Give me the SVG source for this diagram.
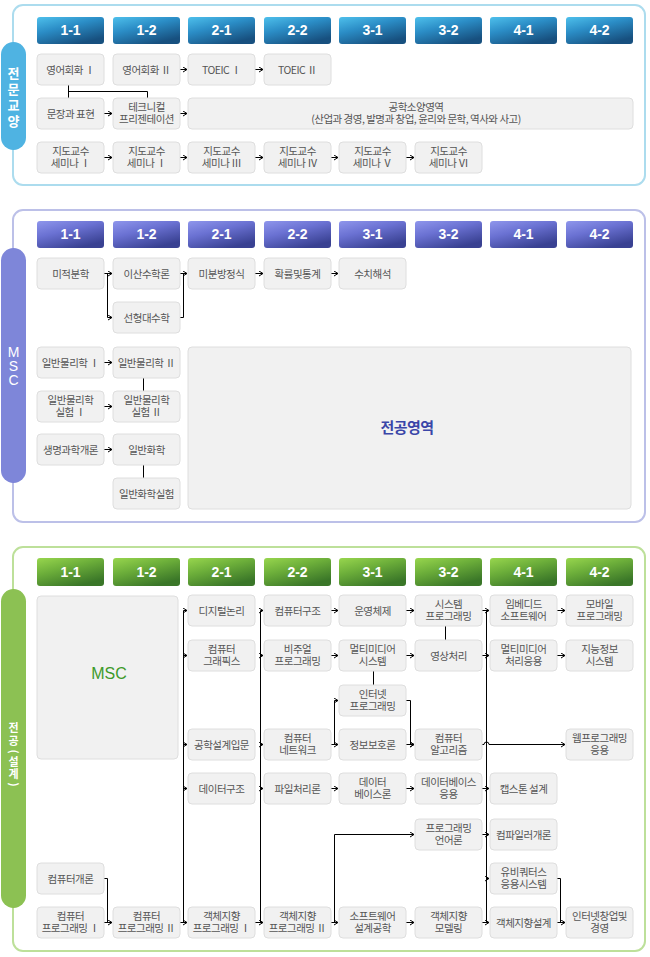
<svg xmlns="http://www.w3.org/2000/svg" width="650" height="957" viewBox="0 0 650 957">
<defs>
<linearGradient id="gB" x1="0" y1="0" x2="0.6" y2="1"><stop offset="0" stop-color="#4ec0ec"/><stop offset="0.45" stop-color="#2b8dc6"/><stop offset="1" stop-color="#17507f"/></linearGradient>
<linearGradient id="gP" x1="0" y1="0" x2="0.6" y2="1"><stop offset="0" stop-color="#8f96ec"/><stop offset="0.45" stop-color="#6a71d2"/><stop offset="1" stop-color="#394192"/></linearGradient>
<linearGradient id="gG" x1="0" y1="0" x2="0.6" y2="1"><stop offset="0" stop-color="#98d64e"/><stop offset="0.45" stop-color="#6cae3a"/><stop offset="1" stop-color="#3a7628"/></linearGradient>
<marker id="ah" markerWidth="6" markerHeight="6" refX="5" refY="3" orient="auto" markerUnits="userSpaceOnUse"><path d="M1,0.5 L5,3 L1,5.5" fill="none" stroke="#000" stroke-width="1"/></marker>
</defs>
<style>
.nd{fill:#f1f1f1;stroke:#dedede;stroke-width:1}
.t{font-family:"Noto Sans CJK KR","Noto Sans",sans-serif;font-size:10.5px;fill:#555;text-anchor:middle;letter-spacing:-0.5px}
.tab{font-family:"Liberation Sans",Arial,sans-serif;font-size:14px;font-weight:bold;fill:#fff;text-anchor:middle}
.pt{font-family:"Noto Sans CJK KR",sans-serif;font-size:13px;font-weight:bold;fill:#fff;text-anchor:middle}
.pt2{font-family:"Noto Sans CJK KR",sans-serif;font-size:11px;font-weight:bold;fill:#fff;text-anchor:middle}
.c{fill:none;stroke:#000;stroke-width:1}
.a{marker-end:url(#ah)}
</style>

<!-- Section 1 frame -->
<g id="sec1">
<rect x="13" y="5" width="632" height="180" rx="10" fill="#fff" stroke="#acdcee" stroke-width="2"/>
<rect x="1" y="42" width="25" height="108" rx="12.5" fill="#4fb3e2"/>
<text class="pt"><tspan x="13.5" y="78">전</tspan><tspan x="13.5" y="94">문</tspan><tspan x="13.5" y="110">교</tspan><tspan x="13.5" y="126">양</tspan></text>
<g id="tabs1">
<rect x="37" y="17" width="67" height="27" rx="3" fill="url(#gB)"/><text class="tab" x="70.5" y="35">1-1</text>
<rect x="113" y="17" width="67" height="27" rx="3" fill="url(#gB)"/><text class="tab" x="146.5" y="35">1-2</text>
<rect x="188" y="17" width="67" height="27" rx="3" fill="url(#gB)"/><text class="tab" x="221.5" y="35">2-1</text>
<rect x="264" y="17" width="67" height="27" rx="3" fill="url(#gB)"/><text class="tab" x="297.5" y="35">2-2</text>
<rect x="339" y="17" width="67" height="27" rx="3" fill="url(#gB)"/><text class="tab" x="372.5" y="35">3-1</text>
<rect x="415" y="17" width="67" height="27" rx="3" fill="url(#gB)"/><text class="tab" x="448.5" y="35">3-2</text>
<rect x="490" y="17" width="67" height="27" rx="3" fill="url(#gB)"/><text class="tab" x="523.5" y="35">4-1</text>
<rect x="566" y="17" width="67" height="27" rx="3" fill="url(#gB)"/><text class="tab" x="599.5" y="35">4-2</text>
</g>
</g>

<!-- Section 2 frame -->
<g id="sec2">
<rect x="13" y="210" width="632" height="312" rx="10" fill="#fff" stroke="#bcc0e8" stroke-width="2"/>
<rect x="1" y="248" width="25" height="235" rx="12.5" fill="#7e86d9"/>
<text font-family="Liberation Sans,Arial,sans-serif" font-size="14" fill="#fff" text-anchor="middle"><tspan x="13.5" y="357">M</tspan><tspan x="13.5" y="371">S</tspan><tspan x="13.5" y="385">C</tspan></text>
<g id="tabs2">
<rect x="37" y="221" width="67" height="27" rx="3" fill="url(#gP)"/><text class="tab" x="70.5" y="239">1-1</text>
<rect x="113" y="221" width="67" height="27" rx="3" fill="url(#gP)"/><text class="tab" x="146.5" y="239">1-2</text>
<rect x="188" y="221" width="67" height="27" rx="3" fill="url(#gP)"/><text class="tab" x="221.5" y="239">2-1</text>
<rect x="264" y="221" width="67" height="27" rx="3" fill="url(#gP)"/><text class="tab" x="297.5" y="239">2-2</text>
<rect x="339" y="221" width="67" height="27" rx="3" fill="url(#gP)"/><text class="tab" x="372.5" y="239">3-1</text>
<rect x="415" y="221" width="67" height="27" rx="3" fill="url(#gP)"/><text class="tab" x="448.5" y="239">3-2</text>
<rect x="490" y="221" width="67" height="27" rx="3" fill="url(#gP)"/><text class="tab" x="523.5" y="239">4-1</text>
<rect x="566" y="221" width="67" height="27" rx="3" fill="url(#gP)"/><text class="tab" x="599.5" y="239">4-2</text>
</g>
</g>

<!-- Section 3 frame -->
<g id="sec3">
<rect x="13" y="547" width="632" height="404" rx="10" fill="#fff" stroke="#bde09a" stroke-width="2"/>
<rect x="1" y="589" width="25" height="319" rx="12.5" fill="#8cc153"/>
<text class="pt2"><tspan x="13.5" y="732">전</tspan><tspan x="13.5" y="744.5">공</tspan></text>
<text class="pt2" transform="rotate(90 13.5 751.5)" x="13.5" y="755">(</text>
<text class="pt2"><tspan x="13.5" y="765.5">설</tspan><tspan x="13.5" y="778">계</tspan></text>
<text class="pt2" transform="rotate(90 13.5 784.5)" x="13.5" y="788">)</text>
<g id="tabs3">
<rect x="37" y="558" width="67" height="28" rx="3" fill="url(#gG)"/><text class="tab" x="70.5" y="577">1-1</text>
<rect x="113" y="558" width="67" height="28" rx="3" fill="url(#gG)"/><text class="tab" x="146.5" y="577">1-2</text>
<rect x="188" y="558" width="67" height="28" rx="3" fill="url(#gG)"/><text class="tab" x="221.5" y="577">2-1</text>
<rect x="264" y="558" width="67" height="28" rx="3" fill="url(#gG)"/><text class="tab" x="297.5" y="577">2-2</text>
<rect x="339" y="558" width="67" height="28" rx="3" fill="url(#gG)"/><text class="tab" x="372.5" y="577">3-1</text>
<rect x="415" y="558" width="67" height="28" rx="3" fill="url(#gG)"/><text class="tab" x="448.5" y="577">3-2</text>
<rect x="490" y="558" width="67" height="28" rx="3" fill="url(#gG)"/><text class="tab" x="523.5" y="577">4-1</text>
<rect x="566" y="558" width="67" height="28" rx="3" fill="url(#gG)"/><text class="tab" x="599.5" y="577">4-2</text>
</g>
</g>

<!-- Connectors -->
<g id="connectors">
<path class="c" d="M68.5,85 V98 M68.5,91.5 H147.5 V98"/>
<path class="c a" d="M180,69.5 H187"/><path class="c a" d="M255,69.5 H263"/>
<path class="c a" d="M104,113.5 H112"/><path class="c a" d="M180,113.5 H187"/>
<path class="c a" d="M104,157.5 H112"/><path class="c a" d="M180,157.5 H187"/><path class="c a" d="M255,157.5 H263"/><path class="c a" d="M331,157.5 H338"/><path class="c a" d="M406,157.5 H414"/>

<path class="c a" d="M104,273.5 H112"/><path class="c a" d="M107.5,273.5 V317.5 H112"/>
<path class="c a" d="M180,273.5 H187"/><path class="c" d="M180,317.5 H183.5 V273.5"/>
<path class="c a" d="M255,273.5 H263"/><path class="c a" d="M331,273.5 H338"/>
<path class="c a" d="M104,362.5 H112"/><path class="c" d="M143.5,378 V391"/>
<path class="c a" d="M104,406.5 H112"/>
<path class="c a" d="M104,449.5 H112"/><path class="c" d="M143.5,465 V478"/>

<path class="c" d="M183.5,610.5 V922.5"/>
<path class="c a" d="M180,922.5 H187"/>
<path class="c a" d="M183.5,610.5 H187"/><path class="c a" d="M183.5,655.5 H187"/><path class="c a" d="M183.5,744.5 H187"/><path class="c a" d="M183.5,788.5 H187"/>
<path class="c" d="M260.5,610.5 V922.5"/>
<path class="c a" d="M255,922.5 H263"/>
<path class="c a" d="M260.5,610.5 H263"/><path class="c a" d="M260.5,655.5 H263"/><path class="c a" d="M260.5,744.5 H263"/><path class="c a" d="M260.5,788.5 H263"/>
<path class="c a" d="M331,610.5 H338"/><path class="c a" d="M331,655.5 H338"/><path class="c a" d="M331,788.5 H338"/><path class="c a" d="M331,922.5 H338"/>
<path class="c a" d="M334.5,922.5 V834.5 H414"/>
<path class="c a" d="M331,744.5 H338"/><path class="c a" d="M334.5,744.5 V700.5 H338"/>
<path class="c a" d="M406,700.5 H410.5 V744.5 H414"/><path class="c a" d="M406,744.5 H414"/>
<path class="c" d="M373.5,671 V685"/>
<path class="c a" d="M406,610.5 H414"/><path class="c a" d="M406,655.5 H414"/><path class="c a" d="M406,788.5 H414"/><path class="c a" d="M406,922.5 H414"/>
<path class="c" d="M445.5,626 V640"/>
<path class="c" d="M486.5,610.5 V922.5"/>
<path class="c a" d="M482,610.5 H489"/><path class="c a" d="M482,655.5 H489"/><path class="c a" d="M482,788.5 H489"/><path class="c a" d="M482,834.5 H489"/><path class="c a" d="M486.5,878.5 H489"/><path class="c a" d="M482,922.5 H489"/>
<path class="c a" d="M482,744.5 H484 A2.5,2.5 0 0 1 489,744.5 H565"/>
<path class="c" d="M557,878.5 H560.5 V922.5"/><path class="c a" d="M557,922.5 H565"/>
<path class="c a" d="M557,610.5 H565"/><path class="c a" d="M557,655.5 H565"/>
<path class="c" d="M104,878.5 H107.5 V922.5"/><path class="c a" d="M104,922.5 H112"/>
</g>

<!-- Section 1 nodes -->
<g id="n-eng1"><rect class="nd" x="37" y="54" width="67" height="31" rx="4"/><text class="t" x="70.5" y="73.5">영어회화 Ⅰ</text></g>
<g id="n-eng2"><rect class="nd" x="113" y="54" width="67" height="31" rx="4"/><text class="t" x="146.5" y="73.5">영어회화 Ⅱ</text></g>
<g id="n-toeic1"><rect class="nd" x="188" y="54" width="67" height="31" rx="4"/><text class="t" x="221.5" y="73.5">TOEIC Ⅰ</text></g>
<g id="n-toeic2"><rect class="nd" x="264" y="54" width="67" height="31" rx="4"/><text class="t" x="297.5" y="73.5">TOEIC Ⅱ</text></g>
<g id="n-writing"><rect class="nd" x="37" y="98" width="67" height="31" rx="4"/><text class="t" x="70.5" y="117.5">문장과 표현</text></g>
<g id="n-tech"><rect class="nd" x="113" y="98" width="67" height="31" rx="4"/><text class="t"><tspan x="146.5" y="111">테크니컬</tspan><tspan x="146.5" y="123">프리젠테이션</tspan></text></g>
<g id="n-liberal"><rect class="nd" x="188" y="98" width="445" height="31" rx="4"/><text class="t"><tspan x="416" y="111">공학소양영역</tspan><tspan x="416" y="123">(산업과 경영, 발명과 창업, 윤리와 문학, 역사와 사고)</tspan></text></g>
<g id="n-sem1"><rect class="nd" x="37" y="142" width="67" height="31" rx="4"/><text class="t"><tspan x="70.5" y="155">지도교수</tspan><tspan x="70.5" y="167">세미나 Ⅰ</tspan></text></g>
<g id="n-sem2"><rect class="nd" x="113" y="142" width="67" height="31" rx="4"/><text class="t"><tspan x="146.5" y="155">지도교수</tspan><tspan x="146.5" y="167">세미나 Ⅰ</tspan></text></g>
<g id="n-sem3"><rect class="nd" x="188" y="142" width="67" height="31" rx="4"/><text class="t"><tspan x="221.5" y="155">지도교수</tspan><tspan x="221.5" y="167">세미나 Ⅲ</tspan></text></g>
<g id="n-sem4"><rect class="nd" x="264" y="142" width="67" height="31" rx="4"/><text class="t"><tspan x="297.5" y="155">지도교수</tspan><tspan x="297.5" y="167">세미나 Ⅳ</tspan></text></g>
<g id="n-sem5"><rect class="nd" x="339" y="142" width="67" height="31" rx="4"/><text class="t"><tspan x="372.5" y="155">지도교수</tspan><tspan x="372.5" y="167">세미나 Ⅴ</tspan></text></g>
<g id="n-sem6"><rect class="nd" x="415" y="142" width="67" height="31" rx="4"/><text class="t"><tspan x="448.5" y="155">지도교수</tspan><tspan x="448.5" y="167">세미나 Ⅵ</tspan></text></g>

<!-- Section 2 nodes -->
<g id="n-calc"><rect class="nd" x="37" y="258" width="67" height="31" rx="4"/><text class="t" x="70.5" y="277.5">미적분학</text></g>
<g id="n-discrete"><rect class="nd" x="113" y="258" width="67" height="31" rx="4"/><text class="t" x="146.5" y="277.5">이산수학론</text></g>
<g id="n-diffeq"><rect class="nd" x="188" y="258" width="67" height="31" rx="4"/><text class="t" x="221.5" y="277.5">미분방정식</text></g>
<g id="n-prob"><rect class="nd" x="264" y="258" width="67" height="31" rx="4"/><text class="t" x="297.5" y="277.5">확률및통계</text></g>
<g id="n-numer"><rect class="nd" x="339" y="258" width="67" height="31" rx="4"/><text class="t" x="372.5" y="277.5">수치해석</text></g>
<g id="n-linalg"><rect class="nd" x="113" y="302" width="67" height="31" rx="4"/><text class="t" x="146.5" y="321.5">선형대수학</text></g>
<g id="n-phys1"><rect class="nd" x="37" y="347" width="67" height="31" rx="4"/><text class="t" x="70.5" y="366.5">일반물리학 Ⅰ</text></g>
<g id="n-phys2"><rect class="nd" x="113" y="347" width="67" height="31" rx="4"/><text class="t" x="146.5" y="366.5">일반물리학 Ⅱ</text></g>
<g id="n-physlab1"><rect class="nd" x="37" y="391" width="67" height="31" rx="4"/><text class="t"><tspan x="70.5" y="404">일반물리학</tspan><tspan x="70.5" y="416">실험 Ⅰ</tspan></text></g>
<g id="n-physlab2"><rect class="nd" x="113" y="391" width="67" height="31" rx="4"/><text class="t"><tspan x="146.5" y="404">일반물리학</tspan><tspan x="146.5" y="416">실험 Ⅱ</tspan></text></g>
<g id="n-bio"><rect class="nd" x="37" y="434" width="67" height="31" rx="4"/><text class="t" x="70.5" y="453.5">생명과학개론</text></g>
<g id="n-chem"><rect class="nd" x="113" y="434" width="67" height="31" rx="4"/><text class="t" x="146.5" y="453.5">일반화학</text></g>
<g id="n-chemlab"><rect class="nd" x="113" y="478" width="67" height="31" rx="4"/><text class="t" x="146.5" y="497.5">일반화학실험</text></g>
<g id="n-major"><rect class="nd" x="188" y="347" width="443" height="162" rx="4"/><text x="407" y="433" font-family="Noto Sans CJK KR,sans-serif" font-size="15" font-weight="bold" fill="#3a46a8" text-anchor="middle" letter-spacing="-0.5">전공영역</text></g>

<!-- Section 3 nodes -->
<g id="n-msc"><rect class="nd" x="37" y="596" width="141" height="163" rx="4"/><text x="109" y="679" font-family="Liberation Sans,Arial,sans-serif" font-size="16" fill="#3d9a2a" text-anchor="middle">MSC</text></g>
<g id="n-intro"><rect class="nd" x="37" y="863" width="67" height="31" rx="4"/><text class="t" x="70.5" y="882.5">컴퓨터개론</text></g>
<g id="n-prog1"><rect class="nd" x="37" y="907" width="67" height="31" rx="4"/><text class="t"><tspan x="70.5" y="920">컴퓨터</tspan><tspan x="70.5" y="932">프로그래밍 Ⅰ</tspan></text></g>
<g id="n-prog2"><rect class="nd" x="113" y="907" width="67" height="31" rx="4"/><text class="t"><tspan x="146.5" y="920">컴퓨터</tspan><tspan x="146.5" y="932">프로그래밍 Ⅱ</tspan></text></g>

<g id="n-digital"><rect class="nd" x="188" y="595" width="67" height="31" rx="4"/><text class="t" x="221.5" y="614.5">디지털논리</text></g>
<g id="n-graphics"><rect class="nd" x="188" y="640" width="67" height="31" rx="4"/><text class="t"><tspan x="221.5" y="653">컴퓨터</tspan><tspan x="221.5" y="665">그래픽스</tspan></text></g>
<g id="n-engdesign"><rect class="nd" x="188" y="729" width="67" height="31" rx="4"/><text class="t" x="221.5" y="748.5">공학설계입문</text></g>
<g id="n-ds"><rect class="nd" x="188" y="773" width="67" height="31" rx="4"/><text class="t" x="221.5" y="792.5">데이터구조</text></g>
<g id="n-oop1"><rect class="nd" x="188" y="907" width="67" height="31" rx="4"/><text class="t"><tspan x="221.5" y="920">객체지향</tspan><tspan x="221.5" y="932">프로그래밍 Ⅰ</tspan></text></g>

<g id="n-arch"><rect class="nd" x="264" y="595" width="67" height="31" rx="4"/><text class="t" x="297.5" y="614.5">컴퓨터구조</text></g>
<g id="n-visual"><rect class="nd" x="264" y="640" width="67" height="31" rx="4"/><text class="t"><tspan x="297.5" y="653">비주얼</tspan><tspan x="297.5" y="665">프로그래밍</tspan></text></g>
<g id="n-network"><rect class="nd" x="264" y="729" width="67" height="31" rx="4"/><text class="t"><tspan x="297.5" y="742">컴퓨터</tspan><tspan x="297.5" y="754">네트워크</tspan></text></g>
<g id="n-file"><rect class="nd" x="264" y="773" width="67" height="31" rx="4"/><text class="t" x="297.5" y="792.5">파일처리론</text></g>
<g id="n-oop2"><rect class="nd" x="264" y="907" width="67" height="31" rx="4"/><text class="t"><tspan x="297.5" y="920">객체지향</tspan><tspan x="297.5" y="932">프로그래밍 Ⅱ</tspan></text></g>

<g id="n-os"><rect class="nd" x="339" y="595" width="67" height="31" rx="4"/><text class="t" x="372.5" y="614.5">운영체제</text></g>
<g id="n-mmsys"><rect class="nd" x="339" y="640" width="67" height="31" rx="4"/><text class="t"><tspan x="372.5" y="653">멀티미디어</tspan><tspan x="372.5" y="665">시스템</tspan></text></g>
<g id="n-inet"><rect class="nd" x="339" y="685" width="67" height="31" rx="4"/><text class="t"><tspan x="372.5" y="698">인터넷</tspan><tspan x="372.5" y="710">프로그래밍</tspan></text></g>
<g id="n-security"><rect class="nd" x="339" y="729" width="67" height="31" rx="4"/><text class="t" x="372.5" y="748.5">정보보호론</text></g>
<g id="n-db"><rect class="nd" x="339" y="773" width="67" height="31" rx="4"/><text class="t"><tspan x="372.5" y="786">데이터</tspan><tspan x="372.5" y="798">베이스론</tspan></text></g>
<g id="n-se"><rect class="nd" x="339" y="907" width="67" height="31" rx="4"/><text class="t"><tspan x="372.5" y="920">소프트웨어</tspan><tspan x="372.5" y="932">설계공학</tspan></text></g>

<g id="n-sysprog"><rect class="nd" x="415" y="595" width="67" height="31" rx="4"/><text class="t"><tspan x="448.5" y="608">시스템</tspan><tspan x="448.5" y="620">프로그래밍</tspan></text></g>
<g id="n-image"><rect class="nd" x="415" y="640" width="67" height="31" rx="4"/><text class="t" x="448.5" y="659.5">영상처리</text></g>
<g id="n-algo"><rect class="nd" x="415" y="729" width="67" height="31" rx="4"/><text class="t"><tspan x="448.5" y="742">컴퓨터</tspan><tspan x="448.5" y="754">알고리즘</tspan></text></g>
<g id="n-dbapp"><rect class="nd" x="415" y="773" width="67" height="31" rx="4"/><text class="t"><tspan x="448.5" y="786">데이터베이스</tspan><tspan x="448.5" y="798">응용</tspan></text></g>
<g id="n-pl"><rect class="nd" x="415" y="819" width="67" height="31" rx="4"/><text class="t"><tspan x="448.5" y="832">프로그래밍</tspan><tspan x="448.5" y="844">언어론</tspan></text></g>
<g id="n-oomodel"><rect class="nd" x="415" y="907" width="67" height="31" rx="4"/><text class="t"><tspan x="448.5" y="920">객체지향</tspan><tspan x="448.5" y="932">모델링</tspan></text></g>

<g id="n-embedded"><rect class="nd" x="490" y="595" width="67" height="31" rx="4"/><text class="t"><tspan x="523.5" y="608">임베디드</tspan><tspan x="523.5" y="620">소프트웨어</tspan></text></g>
<g id="n-mmapp"><rect class="nd" x="490" y="640" width="67" height="31" rx="4"/><text class="t"><tspan x="523.5" y="653">멀티미디어</tspan><tspan x="523.5" y="665">처리응용</tspan></text></g>
<g id="n-capstone"><rect class="nd" x="490" y="773" width="67" height="31" rx="4"/><text class="t" x="523.5" y="792.5">캡스톤 설계</text></g>
<g id="n-compiler"><rect class="nd" x="490" y="819" width="67" height="31" rx="4"/><text class="t" x="523.5" y="838.5">컴파일러개론</text></g>
<g id="n-ubi"><rect class="nd" x="490" y="863" width="67" height="31" rx="4"/><text class="t"><tspan x="523.5" y="876">유비쿼터스</tspan><tspan x="523.5" y="888">응용시스템</tspan></text></g>
<g id="n-ood"><rect class="nd" x="490" y="907" width="67" height="31" rx="4"/><text class="t" x="523.5" y="926.5">객체지향설계</text></g>

<g id="n-mobile"><rect class="nd" x="566" y="595" width="67" height="31" rx="4"/><text class="t"><tspan x="599.5" y="608">모바일</tspan><tspan x="599.5" y="620">프로그래밍</tspan></text></g>
<g id="n-ai"><rect class="nd" x="566" y="640" width="67" height="31" rx="4"/><text class="t"><tspan x="599.5" y="653">지능정보</tspan><tspan x="599.5" y="665">시스템</tspan></text></g>
<g id="n-web"><rect class="nd" x="566" y="729" width="67" height="31" rx="4"/><text class="t"><tspan x="599.5" y="742">웹프로그래밍</tspan><tspan x="599.5" y="754">응용</tspan></text></g>
<g id="n-startup"><rect class="nd" x="566" y="907" width="67" height="31" rx="4"/><text class="t"><tspan x="599.5" y="920">인터넷창업및</tspan><tspan x="599.5" y="932">경영</tspan></text></g>
</svg>
